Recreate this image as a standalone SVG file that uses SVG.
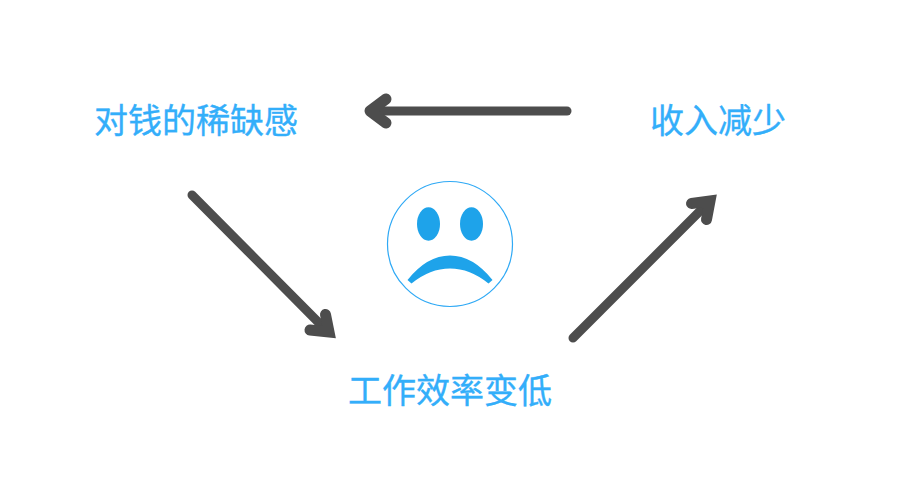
<svg xmlns="http://www.w3.org/2000/svg" width="900" height="500" viewBox="0 0 900 500">
<style>
.t{font-family:"Noto Sans CJK SC","Noto Sans",sans-serif;font-size:34px;fill:#33aefa;stroke:#33aefa;stroke-width:.35;text-anchor:middle}
.a{fill:none;stroke:#4d4d4d;stroke-width:9;stroke-linecap:round}
.h{stroke-width:11;stroke-linejoin:miter;stroke-miterlimit:10}
.e{fill:#1ea3ea}
</style>
<rect width="900" height="500" fill="#fff"/>
<g id="connectors">
<g id="arrow-top"><path class="a" d="M567 111H372"/><path class="a" style="stroke-width:11;stroke-linejoin:round" d="M386 99L370 111L386 123"/></g>
<g id="arrow-left"><path class="a" d="M192 195L327 331"/><path class="a h" d="M325.500 314.500L329 332L310 330"/></g>
<g id="arrow-right"><path class="a" d="M573 338L707 204"/><path class="a h" d="M691.500 203.500L710 201L706.500 219.500"/></g>
</g>
<g id="node-scarcity"><text class="t" x="196" y="133">对钱的稀缺感</text></g>
<g id="node-income"><text class="t" x="718" y="133">收入减少</text></g>
<g id="node-efficiency"><text class="t" x="450" y="403">工作效率变低</text></g>
<g id="face">
<circle cx="450" cy="244" r="62.5" fill="#fff" stroke="#2fa9f5" stroke-width="1.2"/>
<ellipse class="e" cx="428.500" cy="224" rx="11.500" ry="16.700"/>
<ellipse class="e" cx="471.500" cy="224" rx="11.500" ry="16.700"/>
<path class="e" d="M407.500 280Q427 255.500 450 255.500Q473 255.500 492.500 280L488.500 283.500Q470 268.500 450 268.500Q430 268.500 411.500 283.500Z"/>
</g>
</svg>
